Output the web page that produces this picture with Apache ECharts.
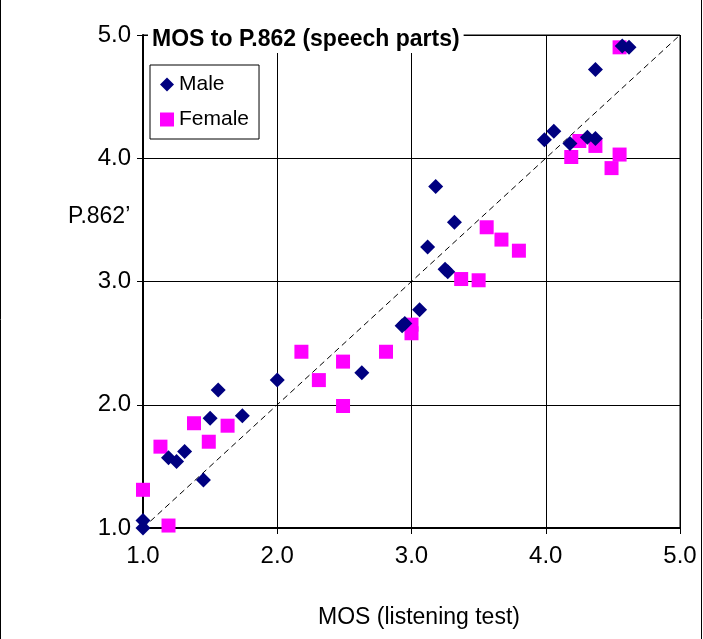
<!DOCTYPE html>
<html><head><meta charset="utf-8">
<script src="https://cdn.jsdelivr.net/npm/echarts@6/dist/echarts.min.js"></script>
<style>html,body{margin:0;padding:0;background:#fff}#c{width:703px;height:639px}</style>
</head><body><div id="c"></div>
<script>
const maleX=[1.0,1.0,1.19,1.25,1.31,1.45,1.50,1.56,1.74,2.0,2.63,2.93,2.95,3.06,3.12,3.18,3.25,3.27,3.32,3.99,4.06,4.18,4.31,4.37,4.37,4.62,4.57];
const maleY=[1.0,1.06,1.57,1.54,1.62,1.39,1.89,2.12,1.91,2.20,2.26,2.64,2.66,2.77,3.28,3.77,3.10,3.08,3.48,4.15,4.22,4.12,4.17,4.16,4.72,4.90,4.91];
const femaleX=[1.0,1.13,1.19,1.38,1.49,1.63,2.18,2.31,2.49,2.49,2.81,3.0,3.0,3.37,3.50,3.56,3.67,3.80,4.19,4.25,4.37,4.49,4.55,4.55];
const femaleY=[1.31,1.66,1.02,1.85,1.70,1.83,2.43,2.20,2.35,1.99,2.43,2.65,2.58,3.02,3.01,3.44,3.34,3.25,4.01,4.14,4.10,3.92,4.03,4.90];
const f='Arial, "Liberation Sans", sans-serif';
const ch=echarts.init(document.getElementById('c'));
const ax=()=>({type:'value',min:1,max:5,interval:1,
 axisLine:{show:true,lineStyle:{color:'#000',width:2}},axisTick:{show:true,length:6,lineStyle:{color:'#000'}},
 axisLabel:{color:'#000',fontSize:24,fontFamily:f,formatter:v=>v.toFixed(1),margin:12},
 splitLine:{show:true,lineStyle:{color:'#000',width:1}}});
const x=ax(),y=ax();
x.axisLabel.margin=16;
ch.setOption({
 animation:false,
 grid:{left:143,right:23,top:35,bottom:111,show:true,borderColor:'#000',borderWidth:1},
 xAxis:x,yAxis:y,
 title:{text:'MOS to P.862 (speech parts)',left:148,top:26,textStyle:{fontSize:23,fontWeight:'bold',fontFamily:f,color:'#000'},backgroundColor:'#fff',padding:[2,4]},
 legend:{left:150,top:65,orient:'vertical',itemGap:14,padding:[9,10,9,10],borderColor:'#000',borderWidth:1,backgroundColor:'#fff',
  textStyle:{fontSize:21,fontFamily:f,color:'#000'},itemWidth:14,itemHeight:14,
  data:[{name:'Male',icon:'diamond'},{name:'Female',icon:'rect'}]},
 graphic:[
  {type:'text',left:68,top:205,style:{text:'P.862\u2019',font:'23px Arial, "Liberation Sans"',fill:'#000'}},
  {type:'text',left:318,top:606,style:{text:'MOS (listening test)',font:'23px Arial, "Liberation Sans"',fill:'#000'}},
  {type:'rect',shape:{x:0.5,y:-2,width:701,height:642},style:{fill:'none',stroke:'#000',lineWidth:1}}
 ],
 series:[
  {name:'diag',type:'line',data:[[1,1],[5,5]],symbol:'none',lineStyle:{color:'#000',type:[6,4],width:1},z:1},
  {name:'Female',type:'scatter',symbol:'rect',symbolSize:14,itemStyle:{color:'#ff00ff',opacity:1},data:femaleX.map((v,i)=>[v,femaleY[i]])},
  {name:'Male',type:'scatter',symbol:'diamond',symbolSize:15,itemStyle:{color:'#000080',opacity:1},data:maleX.map((v,i)=>[v,maleY[i]])}
 ]
});
</script></body></html>
